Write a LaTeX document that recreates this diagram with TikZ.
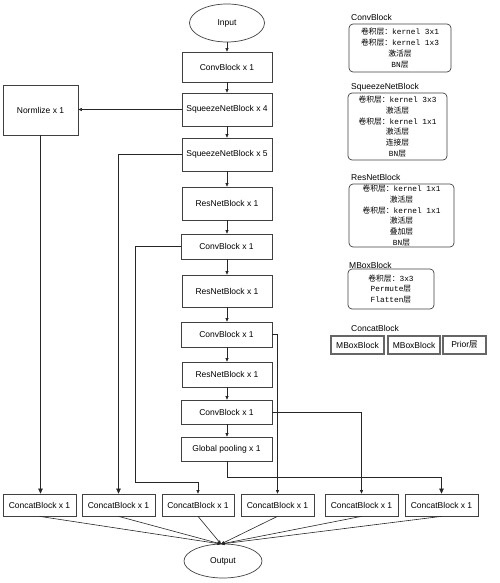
\documentclass[tikz,border=0pt]{standalone}
\usepackage{fontspec}
\setmainfont{Liberation Sans}
\setmonofont{Liberation Mono}
\newfontfamily\cjk{Noto Sans CJK SC}
\usetikzlibrary{arrows.meta,shapes.geometric}
\begin{document}
\begin{tikzpicture}[x=1pt,y=-1pt,
  blk/.style={draw=black!75, line width=0.7pt, minimum width=90pt, inner sep=0pt, font=\fontsize{8.5}{10}\selectfont},
  cblk/.style={blk, minimum width=73pt, minimum height=22pt},
  oval/.style={draw=black!75, line width=0.7pt, ellipse, inner sep=0pt, font=\fontsize{8.5}{10}\selectfont},
  arr/.style={-{Triangle[length=3.5pt,width=3pt]}, line width=0.6pt, draw=black!85},
  bigarr/.style={-{Triangle[length=5pt,width=4.5pt]}, line width=0.6pt, draw=black!85},
  leg/.style={draw=black!75, line width=0.7pt, rounded corners=4pt, inner sep=0pt, align=center, font=\fontsize{7.8}{10.8}\selectfont},
  legt/.style={anchor=west, inner sep=0pt, font=\fontsize{8.5}{10}\selectfont},
  sblk/.style={draw=black!60, line width=1.3pt, inner sep=0pt, minimum height=18pt, font=\fontsize{8.5}{10}\selectfont}
]
\useasboundingbox (0,0) rectangle (499,583);

% main column
\node[oval, minimum width=75pt, minimum height=38pt] (in) at (227,23) {Input};
\node[blk, minimum height=30pt] (cv1) at (227,67) {ConvBlock x 1};
\node[blk, minimum height=33pt] (sq4) at (227,109.5) {SqueezeNetBlock x 4};
\node[blk, minimum height=33pt] (sq5) at (227,154.5) {SqueezeNetBlock x 5};
\node[blk, minimum height=33pt] (rs1) at (227,203.5) {ResNetBlock x 1};
\node[blk, minimum height=25pt, minimum width=91pt] (cv2) at (226.5,246.5) {ConvBlock x 1};
\node[blk, minimum height=32pt] (rs2) at (227,291) {ResNetBlock x 1};
\node[blk, minimum height=25pt, minimum width=91pt] (cv3) at (226.5,334.5) {ConvBlock x 1};
\node[blk, minimum height=25pt] (rs3) at (227,374.5) {ResNetBlock x 1};
\node[blk, minimum height=24pt, minimum width=91pt] (cv4) at (226.5,412) {ConvBlock x 1};
\node[blk, minimum height=24pt, minimum width=91pt] (gp) at (226.5,449) {Global pooling x 1};
\node[blk, minimum width=75pt, minimum height=50pt] (norm) at (40.5,110) {Normlize x 1};

% concat row
\node[cblk] (c1) at (39.5,505) {ConcatBlock x 1};
\node[cblk] (c2) at (118.5,505) {ConcatBlock x 1};
\node[cblk, minimum width=72pt] (c3) at (198,505) {ConcatBlock x 1};
\node[cblk] (c4) at (277.5,505) {ConcatBlock x 1};
\node[cblk] (c5) at (361.5,505) {ConcatBlock x 1};
\node[cblk] (c6) at (441.5,505) {ConcatBlock x 1};
\node[oval, minimum width=78pt, minimum height=34pt] (out) at (223,561) {Output};

% column arrows
\draw[arr] (in) -- (cv1);
\draw[arr] (cv1) -- (sq4);
\draw[arr] (sq4) -- (sq5);
\draw[arr] (sq5) -- (rs1);
\draw[arr] (rs1) -- (rs1 |- cv2.north);
\draw[arr] (cv2.south -| rs1) -- (rs1 |- rs2.north);
\draw[arr] (rs2) -- (rs2 |- cv3.north);
\draw[arr] (cv3.south -| rs2) -- (rs3);
\draw[arr] (rs3) -- (rs3 |- cv4.north);
\draw[arr] (cv4.south -| rs3) -- (rs3 |- gp.north);

% branches
\draw[arr] (sq4.west) -- (norm.east |- sq4.west);
\draw[bigarr] (norm.south) -- (norm.south |- c1.north);
\draw[bigarr] (sq5.west) -| (c2.north);
\coordinate (k1) at (135,482);
\draw[arr] (cv2.west) -| (k1) -| (c3.north);
\draw[arr] (cv3.east) -| (c4.north);
\draw[arr] (cv4.east) -| (c5.north);
\coordinate (k2) at (227,477);
\draw[bigarr] (gp.south -| k2) -- (k2) -| (c6.north);

% to output
\coordinate (o) at (221,544);
\foreach \c in {c1,c2,c3,c4,c5,c6} \draw[arr] (\c.south) -- (o);

% legend
\node[legt] (l1) at (351,17) {ConvBlock};
\node[leg, minimum width=102pt, minimum height=48pt] (b1) at (400,48)
  {{\cjk 卷积层：}{\ttfamily kernel 3x1}\\{\cjk 卷积层：}{\ttfamily kernel 1x3}\\{\cjk 激活层}\\{\ttfamily BN}{\cjk 层}};
\node[legt] (l2) at (351,87) {SqueezeNetBlock};
\node[leg, minimum width=99pt, minimum height=67pt] (b2) at (397.5,126.5)
  {{\cjk 卷积层：}{\ttfamily kernel 3x3}\\{\cjk 激活层}\\{\cjk 卷积层：}{\ttfamily kernel 1x1}\\{\cjk 激活层}\\{\cjk 连接层}\\{\ttfamily BN}{\cjk 层}};
\node[legt] (l3) at (351,177) {ResNetBlock};
\node[leg, minimum width=105pt, minimum height=63pt] (b3) at (401.5,215.5)
  {{\cjk 卷积层：}{\ttfamily kernel 1x1}\\{\cjk 激活层}\\{\cjk 卷积层：}{\ttfamily kernel 1x1}\\{\cjk 激活层}\\{\cjk 叠加层}\\{\ttfamily BN}{\cjk 层}};
\node[legt] (l4) at (349,265) {MBoxBlock};
\node[leg, minimum width=86pt, minimum height=40pt] (b4) at (391,289)
  {{\cjk 卷积层：}{\ttfamily 3x3}\\{\ttfamily Permute}{\cjk 层}\\{\ttfamily Flatten}{\cjk 层}};
\node[legt] (l5) at (351,328) {ConcatBlock};
\node[sblk, minimum width=53pt] (m1) at (357.5,345) {MBoxBlock};
\node[sblk, minimum width=52pt] (m2) at (414,345) {MBoxBlock};
\node[sblk, minimum width=43pt] (m3) at (464.5,345) {Prior{\cjk 层}};
\end{tikzpicture}
\end{document}
